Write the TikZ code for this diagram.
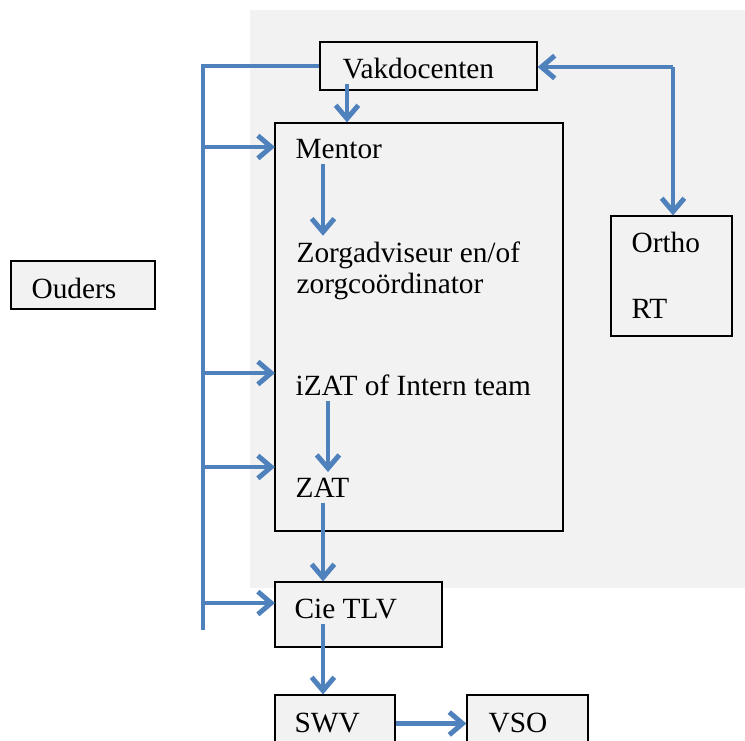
\documentclass[tikz,border=0pt]{standalone}
\usepackage{fontspec}
\setmainfont{Liberation Serif}
\usepackage{tikz}
\usetikzlibrary{positioning}
\usetikzlibrary{fit}
\usetikzlibrary{arrows.meta}

\definecolor{linkblue}{HTML}{4F81BD}
\definecolor{panelgray}{HTML}{F2F2F2}

\begin{document}
\begin{tikzpicture}
        [x=0.75pt, y=-0.75pt,
         box/.style={draw, line width=0.9pt, fill=panelgray, inner sep=0pt},
         txt/.style={anchor=base west, inner sep=4pt,
                     font=\fontsize{22}{23.3}\selectfont},
         conn/.style={draw=linkblue, line width=3.7pt},
         arr/.style={conn, -{Straight Barb[length=10pt,width=17pt]}}]
        \useasboundingbox (0,0) rectangle (745,740);
        \clip (0,0) rectangle (745,740);
        \fill [panelgray] (250,10) rectangle (745,588);

        % boxes
        \node [box, fit={(320,42) (537,90)}] (vak) {};
        \node [box, fit={(275,123) (563,531)}] (zorgbox) {};
        \node [box, fit={(611,216) (732,336)}] (ortho) {};
        \node [box, fit={(11,261) (155,309)}] (ouders) {};
        \node [box, fit={(275,582) (442,647)}] (cie) {};
        \node [box, fit={(275,695) (395,752)}] (swv) {};
        \node [box, fit={(467,695) (588,752)}] (vso) {};

        % texts
        \node [txt] (vakT) at (337,78) {Vakdocenten};
        \node [txt] (mentorT) at (290,158) {Mentor};
        \node [txt] (zorgT) at (291,262) {Zorgadviseur en/of};
        \node [txt] (zorgT2) at (291,293) {zorgcoördinator};
        \node [txt] (izatT) at (290,395) {iZAT of Intern team};
        \node [txt] (zatT) at (290,497) {ZAT};
        \node [txt] (orthoT) at (626,252) {Ortho};
        \node [txt] (rtT) at (626,318) {RT};
        \node [txt] (oudersT) at (26,298) {Ouders};
        \node [txt] (cieT) at (289,618) {Cie TLV};
        \node [txt] (swvT) at (289,732) {SWV};
        \node [txt] (vsoT) at (483,732) {VSO};

        % left bus
        \coordinate (busBot) at (203,630);
        \coordinate (inMentor) at (275,147);
        \coordinate (inIzat) at (275,373);
        \coordinate (inZat) at (275,467);
        \coordinate (inCie) at (275,603);
        \draw [conn] (vak.west) -| (busBot);
        \draw [arr] (busBot |- inMentor) -- (inMentor);
        \draw [arr] (busBot |- inIzat) -- (inIzat);
        \draw [arr] (busBot |- inZat) -- (inZat);
        \draw [arr] (busBot |- inCie) -- (inCie);

        % right split
        \coordinate (split) at (673,67);
        \draw [arr] (split) -- (split -| vak.east);
        \draw [arr] (split) -- (split |- ortho.north);

        % down the chain
        \draw [arr] (vakT.south -| 347,0) -- (zorgbox.north -| 347,0);
        \draw [arr] (mentorT.south -| 323,0) -- (zorgT.north -| 323,0);
        \draw [arr] (izatT.south -| 328,0) -- (zatT.north -| 328,0);
        \draw [arr] (zatT.south -| 323,0) -- (cie.north -| 323,0);
        \draw [arr] (cieT.south -| 323,0) -- (swv.north -| 323,0);
        \draw [arr] (swv) -- (vso);
    \end{tikzpicture}
\end{document}
